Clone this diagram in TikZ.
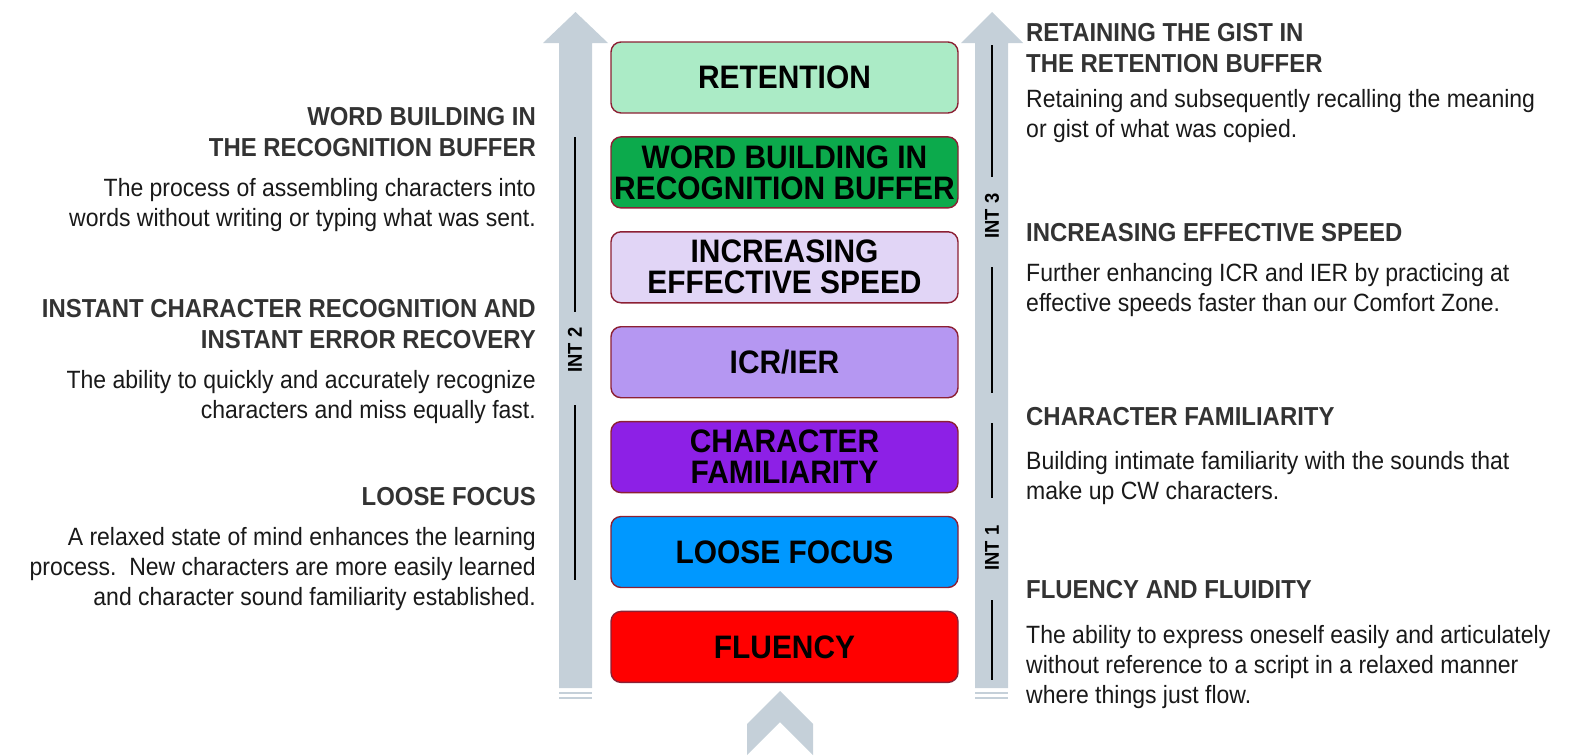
\documentclass[tikz,border=0pt]{standalone}
\usepackage{fontspec}
\setmainfont{Liberation Sans}[FakeStretch=0.92]
\usetikzlibrary{positioning}

\definecolor{railgrey}{RGB}{197,208,217}
\definecolor{stageborder}{RGB}{140,32,52}
\definecolor{headgrey}{RGB}{51,51,51}
\definecolor{retcol}{RGB}{171,235,198}
\definecolor{wordcol}{RGB}{12,170,76}
\definecolor{speedcol}{RGB}{225,213,246}
\definecolor{icrcol}{RGB}{181,151,242}
\definecolor{charcol}{RGB}{141,32,230}
\definecolor{loosecol}{RGB}{0,152,255}
\definecolor{fluencycol}{RGB}{255,0,0}

\begin{document}
\begin{tikzpicture}[x=1pt,y=-1pt,node distance=22.5pt]
  \tikzstyle{stage}=[draw=stageborder,line width=1.4pt,rounded corners=10pt,minimum width=347pt,minimum height=71pt,inner sep=2pt,align=center,font=\bfseries\fontsize{32.5}{31}\selectfont]
  \tikzstyle{headtext}=[inner sep=0pt,text=headgrey,font=\bfseries\fontsize{26}{31}\selectfont]
  \tikzstyle{bodytext}=[inner sep=0pt,text=black!90,font=\fontsize{25}{30}\selectfont]
  \tikzstyle{intlabel}=[rotate=90,inner sep=0pt,font=\bfseries\fontsize{20}{20}\selectfont]
  \tikzstyle{intline}=[line width=2.2pt]
  \tikzstyle{rail}=[fill=railgrey]

  \useasboundingbox (0,0) rectangle (1584,755);

  % Rails
  \fill[rail] (559,688) -- (559,43) -- (543,43) -- (575.5,12) -- (608,43) -- (592,43) -- (592,688) -- cycle;
  \fill[rail] (975,688) -- (975,43) -- (961,43) -- (992,12) -- (1023,43) -- (1008,43) -- (1008,688) -- cycle;
  \draw[railgrey,line width=2pt] (559,693) -- (592,693) (559,698) -- (592,698);
  \draw[railgrey,line width=2pt] (975,693) -- (1008,693) (975,698) -- (1008,698);
  \fill[rail] (747,755) -- (747,724) -- (780,691) -- (813,724) -- (813,755) -- (780,722) -- cycle;

  % Stages
  \node[stage, fill=retcol] (ret) at (784.5,77.5) {RETENTION};
  \node[stage, fill=wordcol] (word) [below=of ret] {WORD BUILDING IN\\RECOGNITION BUFFER};
  \node[stage, fill=speedcol] (speed) [below=of word] {INCREASING\\EFFECTIVE SPEED};
  \node[stage, fill=icrcol] (icr) [below=of speed] {ICR/IER};
  \node[stage, fill=charcol] (char) [below=of icr] {CHARACTER\\FAMILIARITY};
  \node[stage, fill=loosecol] (loose) [below=of char] {LOOSE FOCUS};
  \node[stage, fill=fluencycol] (fluency) [below=of loose] {FLUENCY};

  % Intervals
  \node[intlabel] (int2) at (575,350) {INT 2};
  \node[intlabel] (int3) at (992,216) {INT 3};
  \node[intlabel] (int1) at (992,548) {INT 1};
  \draw[intline] (575,137) -- (575,312) (575,405) -- (575,580);
  \draw[intline] (992,45) -- (992,177) (992,267) -- (992,393);
  \draw[intline] (992,423) -- (992,498) (992,600) -- (992,680);

  % Left notes
  \node[headtext, anchor=north east, align=right] (wordhead) at (536,107) {WORD BUILDING IN\\THE RECOGNITION BUFFER};
  \node[bodytext, align=right] (wordbody) [below=21pt of wordhead.south east, anchor=north east] {The process of assembling characters into\\words without writing or typing what was sent.};
  \node[headtext, anchor=north east, align=right] (icrhead) at (536,299) {INSTANT CHARACTER RECOGNITION AND\\INSTANT ERROR RECOVERY};
  \node[bodytext, align=right] (icrbody) [below=21pt of icrhead.south east, anchor=north east] {The ability to quickly and accurately recognize\\characters and miss equally fast.};
  \node[headtext, anchor=north east, align=right] (loosehead) at (536,487) {LOOSE FOCUS};
  \node[bodytext, align=right] (loosebody) [below=21pt of loosehead.south east, anchor=north east] {A relaxed state of mind enhances the learning\\process.\ \ New characters are more easily learned\\and character sound familiarity established.};

  % Right notes
  \node[headtext, anchor=north west, align=left] (rethead) at (1026,23) {RETAINING THE GIST IN\\THE RETENTION BUFFER};
  \node[bodytext, align=left] (retbody) [below=16pt of rethead.south west, anchor=north west] {Retaining and subsequently recalling the meaning\\or gist of what was copied.};
  \node[headtext, anchor=north west, align=left] (speedhead) at (1026,223) {INCREASING EFFECTIVE SPEED};
  \node[bodytext, align=left] (speedbody) [below=21pt of speedhead.south west, anchor=north west] {Further enhancing ICR and IER by practicing at\\effective speeds faster than our Comfort Zone.};
  \node[headtext, anchor=north west, align=left] (charhead) at (1026,407) {CHARACTER FAMILIARITY};
  \node[bodytext, align=left] (charbody) [below=25pt of charhead.south west, anchor=north west] {Building intimate familiarity with the sounds that\\make up CW characters.};
  \node[headtext, anchor=north west, align=left] (fluhead) at (1026,580) {FLUENCY AND FLUIDITY};
  \node[bodytext, align=left] (flubody) [below=26pt of fluhead.south west, anchor=north west] {The ability to express oneself easily and articulately\\without reference to a script in a relaxed manner\\where things just flow.};
\end{tikzpicture}
\end{document}
